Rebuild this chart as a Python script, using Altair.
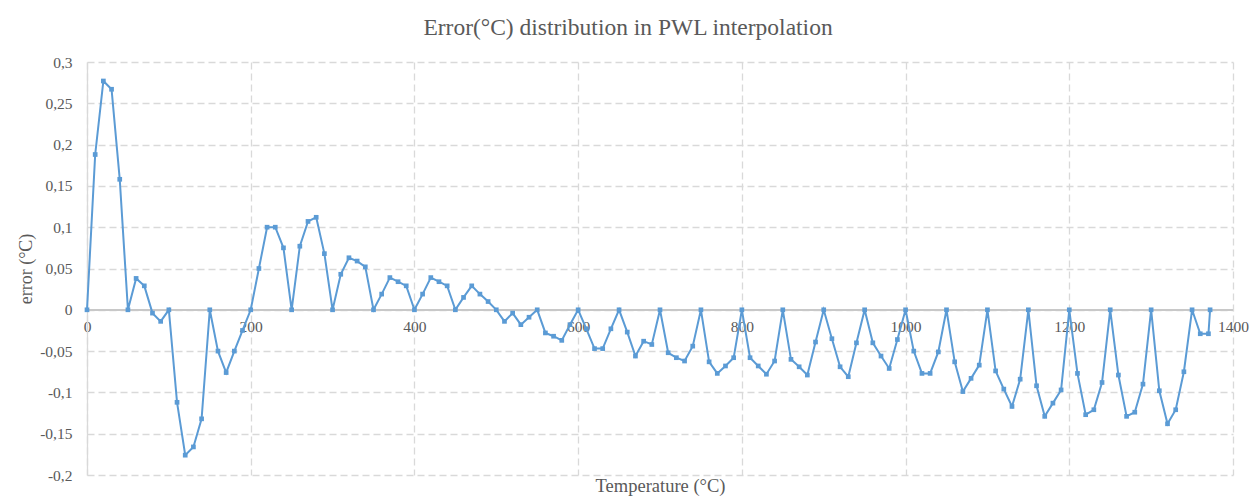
import altair as alt
import pandas as pd

temperature = [
    0, 10, 20, 30, 40, 50, 60, 70, 80, 90,
    100, 110, 120, 130, 140, 150, 160, 170, 180, 190,
    200, 210, 220, 230, 240, 250, 260, 270, 280, 290,
    300, 310, 320, 330, 340, 350, 360, 370, 380, 390,
    400, 410, 420, 430, 440, 450, 460, 470, 480, 490,
    500, 510, 520, 530, 540, 550, 560, 570, 580, 590,
    600, 610, 620, 630, 640, 650, 660, 670, 680, 690,
    700, 710, 720, 730, 740, 750, 760, 770, 780, 790,
    800, 810, 820, 830, 840, 850, 860, 870, 880, 890,
    900, 910, 920, 930, 940, 950, 960, 970, 980, 990,
    1000, 1010, 1020, 1030, 1040, 1050, 1060, 1070, 1080, 1090,
    1100, 1110, 1120, 1130, 1140, 1150, 1160, 1170, 1180, 1190,
    1200, 1210, 1220, 1230, 1240, 1250, 1260, 1270, 1280, 1290,
    1300, 1310, 1320, 1330, 1340, 1350, 1360, 1370, 1372,
]

error = [
    0, 0.188, 0.277, 0.267, 0.158, 0, 0.038, 0.029, -0.004, -0.014,
    0, -0.112, -0.176, -0.166, -0.132, 0, -0.050, -0.076, -0.050, -0.025,
    0, 0.050, 0.100, 0.100, 0.075, 0, 0.077, 0.107, 0.112, 0.068,
    0, 0.043, 0.063, 0.059, 0.052, 0, 0.019, 0.039, 0.034, 0.029,
    0, 0.019, 0.039, 0.034, 0.029, 0, 0.015, 0.029, 0.019, 0.010,
    0, -0.014, -0.004, -0.018, -0.009, 0, -0.028, -0.032, -0.037, -0.018,
    0, -0.023, -0.047, -0.047, -0.023, 0, -0.027, -0.056, -0.038, -0.042,
    0, -0.052, -0.058, -0.062, -0.044, 0, -0.063, -0.077, -0.068, -0.058,
    0, -0.058, -0.068, -0.078, -0.062, 0, -0.060, -0.069, -0.079, -0.039,
    0, -0.035, -0.069, -0.081, -0.040, 0, -0.040, -0.056, -0.071, -0.036,
    0, -0.050, -0.077, -0.077, -0.051, 0, -0.063, -0.099, -0.083, -0.067,
    0, -0.074, -0.096, -0.117, -0.084, 0, -0.092, -0.129, -0.113, -0.097,
    0, -0.077, -0.127, -0.121, -0.088, 0, -0.079, -0.129, -0.124, -0.090,
    0, -0.098, -0.138, -0.121, -0.075, 0, -0.029, -0.029, 0,
]

x_ticks = [0, 200, 400, 600, 800, 1000, 1200, 1400]
y_ticks = [-0.2, -0.15, -0.1, -0.05, 0, 0.05, 0.1, 0.15, 0.2, 0.25, 0.3]

df = pd.DataFrame({"temperature": temperature, "error": error})

FONT = "Liberation Serif"
TXT = "#595959"
GRID = "#D9D9D9"
BLUE = "#5B9BD5"

W, H = 1146, 413

x_scale = alt.Scale(domain=[0, 1400], nice=False)
y_scale = alt.Scale(domain=[-0.2, 0.3], nice=False)

line = alt.Chart(df).mark_line(
    color=BLUE, strokeWidth=2,
    point=alt.OverlayMarkDef(shape="square", size=22, filled=True, color=BLUE),
).encode(
    x=alt.X("temperature:Q", scale=x_scale, axis=alt.Axis(
        values=x_ticks, orient="bottom", offset=-H * 0.4, format="d",
        domain=False, ticks=False, grid=True, labelFlush=False,
        gridColor=GRID, gridDash=[7, 4], gridWidth=1.3,
        labelFont=FONT, labelFontSize=15.5, labelColor=TXT, labelPadding=10,
        title="Temperature (°C)", titleFont=FONT, titleFontSize=18.5,
        titleFontWeight="normal", titleColor=TXT, titleY=H * 0.4 + 20,
        titleBaseline="bottom",
    )),
    y=alt.Y("error:Q", scale=y_scale, axis=alt.Axis(
        values=y_ticks, domain=True, domainColor=GRID, domainWidth=1.3,
        ticks=False, grid=True, gridColor=GRID, gridDash=[7, 4], gridWidth=1.3,
        labelFont=FONT, labelFontSize=15.5, labelColor=TXT, labelPadding=15,
        labelExpr="replace(replace(format(datum.value, '.2~f'), '.', ','), '\u2212', '-')",
        title="error (°C)", titleFont=FONT, titleFontSize=18,
        titleFontWeight="normal", titleColor=TXT,
        titleX=-61, titleY=H / 2, titleAngle=-90, titleAlign="center",
        titleBaseline="middle",
    )),
)

zero = alt.Chart(df).mark_rule(color="#C8C8C8", strokeWidth=1.5).encode(
    y=alt.datum(0, scale=y_scale),
)

chart = alt.layer(zero, line).properties(
    width=W, height=H,
    autosize=alt.AutoSizeParams(type="none"),
    padding={"left": 79, "top": 54, "right": 18, "bottom": 21},
    title=alt.TitleParams(
        "Error(°C)  distribution  in PWL interpolation",
        font=FONT, fontSize=23.5, fontWeight="normal", color=TXT,
        anchor="middle", offset=16, dx=-32,
    ),
).configure_view(stroke=None)

chart.save("out.html", embed_options={"renderer": "svg", "actions": False})
